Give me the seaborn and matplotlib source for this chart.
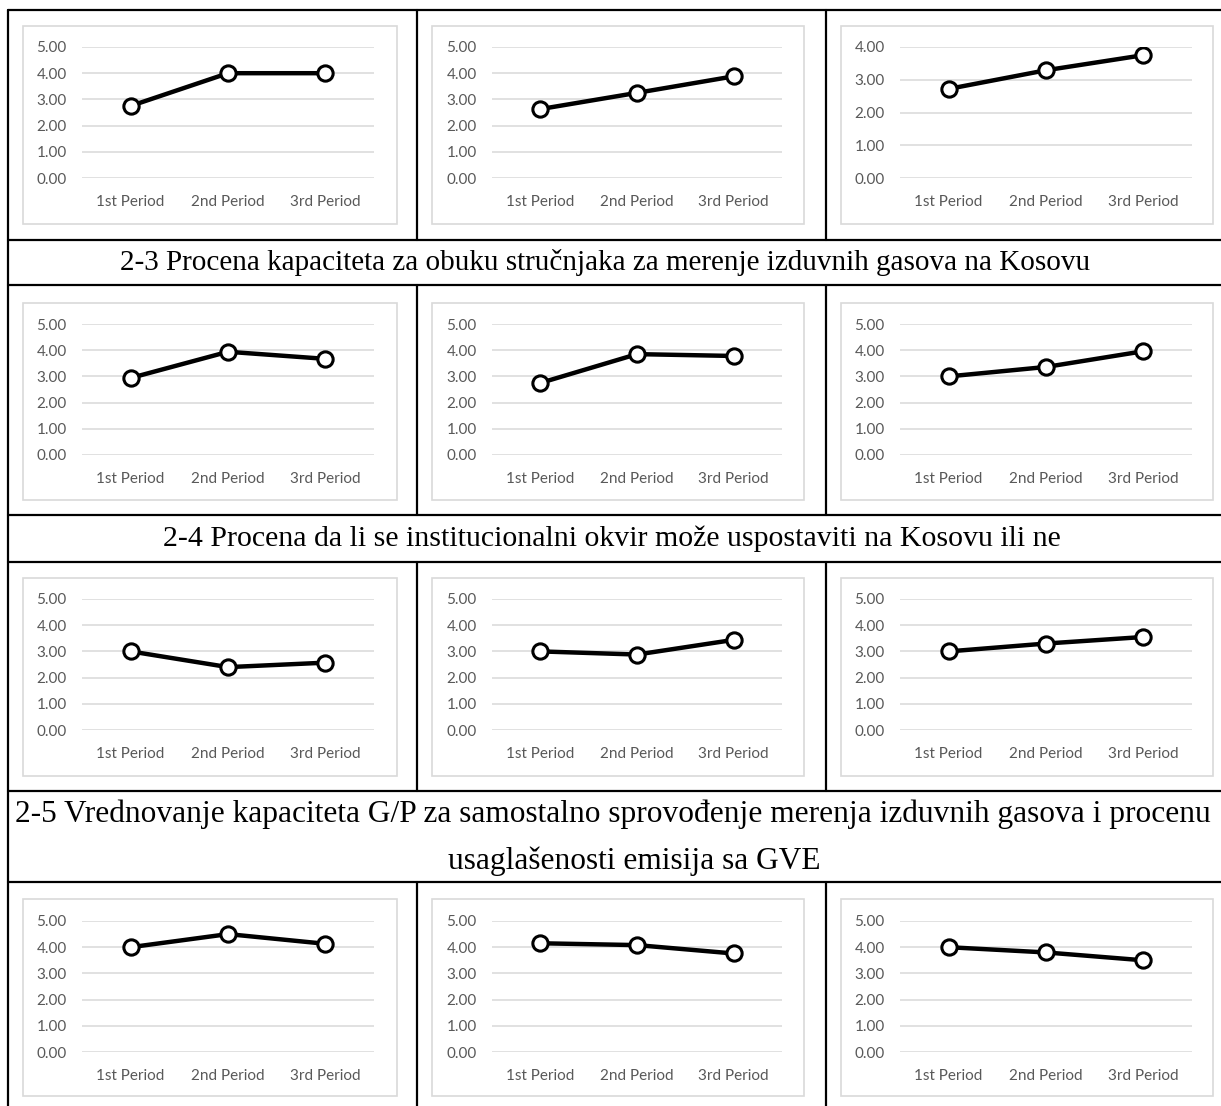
import matplotlib
matplotlib.use("Agg")
import matplotlib.pyplot as plt
from matplotlib.lines import Line2D
from matplotlib.patches import Rectangle
import seaborn as sns
import pandas as pd

# ---------------- data ----------------
periods = ["1st Period", "2nd Period", "3rd Period"]

row1_left = [2.75, 4.00, 4.00]
row1_mid = [2.63, 3.25, 3.88]
row1_right = [2.72, 3.29, 3.75]

row2_left = [2.94, 3.94, 3.67]
row2_mid = [2.75, 3.85, 3.78]
row2_right = [3.00, 3.36, 3.96]

row3_left = [3.00, 2.40, 2.57]
row3_mid = [3.00, 2.88, 3.44]
row3_right = [3.00, 3.30, 3.55]

row4_left = [4.00, 4.50, 4.13]
row4_mid = [4.15, 4.08, 3.76]
row4_right = [4.00, 3.80, 3.50]

y_max_row1_right = 4
y_max_default = 5

captions = [
    "2-3 Procena kapaciteta za obuku stručnjaka za merenje izduvnih gasova na Kosovu",
    "2-4 Procena da li se institucionalni okvir može uspostaviti na Kosovu ili ne",
    "2-5 Vrednovanje kapaciteta G/P za samostalno sprovođenje merenja izduvnih gasova i procenu",
    "usaglašenosti emisija sa GVE",
]

# ---------------- layout ----------------
W, H = 1221, 1106
sns.set_theme(style="white")
plt.rcParams["font.family"] = ["Lato", "DejaVu Sans"]

fig = plt.figure(figsize=(W / 100, H / 100), dpi=100)
fig.patch.set_facecolor("white")


def fx(x):
    return x / W


def fy(y):
    return 1 - y / H


def hline(y, x0=8, x1=1221, lw=1.6):
    fig.add_artist(Line2D([fx(x0), fx(x1)], [fy(y), fy(y)], color="black", lw=lw,
                          transform=fig.transFigure))


def vline(x, y0, y1, lw=1.6):
    fig.add_artist(Line2D([fx(x), fx(x)], [fy(y0), fy(y1)], color="black", lw=lw,
                          transform=fig.transFigure))


# table grid
for y in [10, 240, 285, 515, 562, 791, 882]:
    hline(y)
vline(8, 10, 1106)
for (y0, y1) in [(10, 240), (285, 515), (562, 791), (882, 1106)]:
    vline(417, y0, y1)
    vline(826, y0, y1)

# captions
cap_font = dict(family=["Liberation Serif", "DejaVu Serif"], color="black",
                ha="center", va="center")
fig.text(fx(605), fy(263), captions[0], fontsize=21, **cap_font)
fig.text(fx(612), fy(539), captions[1], fontsize=21.5, **cap_font)
fig.text(fx(613), fy(814), captions[2], fontsize=22.6, **cap_font)
fig.text(fx(634), fy(861), captions[3], fontsize=22.6, **cap_font)

# chart geometry (pixels)
col_box = [(23, 397), (432, 804), (841, 1213)]
col_plot = [(82, 374), (492, 782), (900, 1192)]
row_box = [(26, 224), (303, 500), (578, 776), (899, 1096)]
row_plot = [(47, 178), (324, 455), (599, 730), (921, 1052)]

grid = [
    [row1_left, row1_mid, row1_right],
    [row2_left, row2_mid, row2_right],
    [row3_left, row3_mid, row3_right],
    [row4_left, row4_mid, row4_right],
]

for r in range(4):
    for c in range(3):
        vals = grid[r][c]
        bx0, bx1 = col_box[c]
        by0, by1 = row_box[r]
        fig.add_artist(Rectangle((fx(bx0), fy(by1)), fx(bx1) - fx(bx0), fy(by0) - fy(by1),
                                 transform=fig.transFigure, facecolor="white",
                                 edgecolor="#D9D9D9", lw=1.2, zorder=0))
        px0, px1 = col_plot[c]
        py0, py1 = row_plot[r]
        ax = fig.add_axes([fx(px0), fy(py1), fx(px1) - fx(px0), fy(py0) - fy(py1)])
        ax.set_facecolor("none")
        ymax = y_max_row1_right if (r == 0 and c == 2) else y_max_default
        df = pd.DataFrame({"period": periods, "value": vals})
        sns.lineplot(data=df, x="period", y="value", ax=ax, sort=False, color="black",
                     lw=3.2, marker="o", markersize=11, markerfacecolor="white",
                     markeredgecolor="black", markeredgewidth=2.2, zorder=5)
        ax.set_xlim(-0.5, 2.5)
        ax.set_ylim(0, ymax)
        ax.set_yticks(range(0, ymax + 1))
        ax.set_yticklabels([f"{v:.2f}" for v in range(0, ymax + 1)])
        for v in range(0, ymax + 1):
            ax.axhline(v, color="#D9D9D9", lw=1.1, zorder=1)
        for s in ax.spines.values():
            s.set_visible(False)
        ax.tick_params(axis="both", length=0, labelsize=11, colors="#595959")
        ax.tick_params(axis="y", pad=11)
        ax.tick_params(axis="x", pad=12)
        ax.set_xlabel("")
        ax.set_ylabel("")
        ax.grid(False)

fig.savefig("out.png", dpi=100)
